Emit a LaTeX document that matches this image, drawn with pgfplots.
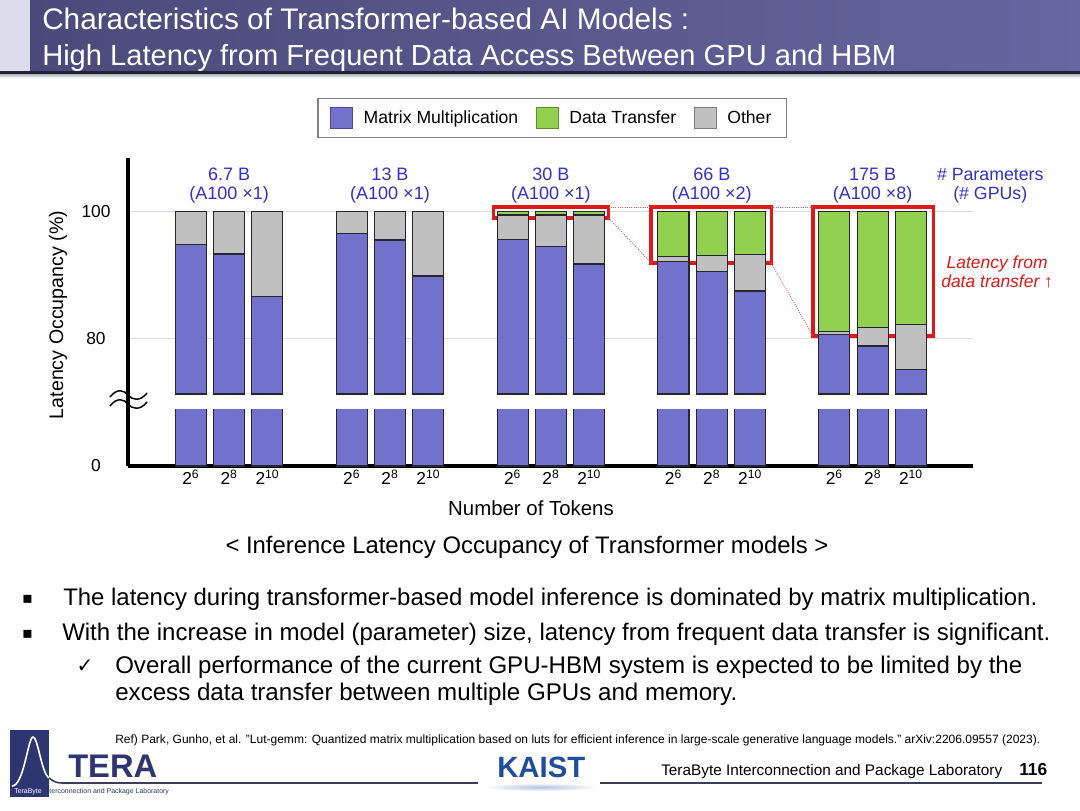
\documentclass[border=0pt]{standalone}
\usepackage{pgfplots}
\pgfplotsset{compat=1.18}
\usepackage{pgfplotstable}
\usepackage{fontspec}
\setmainfont{Liberation Sans}
\newfontfamily\dejavu{DejaVu Sans}
\usepackage{graphicx}
\definecolor{mmc}{HTML}{7272CC}
\definecolor{mmd}{HTML}{4A4A99}
\definecolor{dtc}{HTML}{92D050}
\definecolor{dtd}{HTML}{5E8F2E}
\definecolor{othc}{HTML}{C0C0C0}
\definecolor{othd}{HTML}{7F7F7F}
\definecolor{barline}{HTML}{262633}
\definecolor{lblue}{HTML}{3232C8}
\definecolor{redc}{HTML}{E01818}
\definecolor{gridgray}{HTML}{DCDCDC}
\definecolor{legendgray}{HTML}{808080}
\definecolor{stripc}{HTML}{DCDCEA}
\definecolor{titleL}{HTML}{4A4A7A}
\definecolor{titleR}{HTML}{6666A0}
\definecolor{titleline}{HTML}{22223A}
\definecolor{teranavy}{HTML}{2E3672}
\definecolor{kaistblue}{HTML}{1F4E9E}
\definecolor{footline}{HTML}{3C3C5C}
\newcommand{\fs}[1]{\fontsize{#1}{#1}\selectfont}
\newcommand{\glab}[3]{%
  \node[anchor=base, text=lblue, font=\fs{13.5}, inner sep=0] at (axis cs:#1,105.0) {#2};
  \node[anchor=base, text=lblue, font=\fs{13.5}, inner sep=0] at (axis cs:#1,101.85) {#3};}

\pgfplotstableread{
x     mm     oth    dt
0     94.85  5.15   0
1     93.32  6.68   0
2     86.57  13.43  0
4.2   96.48  3.52   0
5.2   95.53  4.47   0
6.2   89.84  10.16  0
8.4   95.64  3.84   0.52
9.4   94.47  5.01   0.52
10.4  91.74  7.74   0.52
12.6  92.20  0.70   7.10
13.6  90.52  2.58   6.90
14.6  87.47  5.73   6.80
16.8  80.60  0.45   18.95
17.8  78.78  2.90   18.32
18.8  75.00  7.20   17.80
}\datatable

\begin{document}
\begin{tikzpicture}[x=0.75pt,y=-0.75pt]
\useasboundingbox (0,0) rectangle (1080,810);
\fill[white] (0,0) rectangle (1080,810);
% title bar
\fill[stripc] (0,0) rectangle (30,71);
\shade[left color=titleL, right color=titleR] (30,0) rectangle (1080,71);
\fill[titleline] (0,71) rectangle (1080,74);
\shade[top color=black!30, bottom color=white] (0,74) rectangle (1080,78);
\node[anchor=base west, inner sep=0, text=white] at (42,29.5) {\resizebox{485.25pt}{!}{\fs{22}Characteristics of Transformer-based AI Models :}};
\node[anchor=base west, inner sep=0, text=white] at (42,65) {\resizebox{640.5pt}{!}{\fs{22}High Latency from Frequent Data Access Between GPU and HBM}};

% upper axis
\begin{axis}[
  at={(96pt,-295.5pt)}, anchor=south west,
  width=633.75pt, height=177pt, scale only axis,
  xmin=-1.64, xmax=20.42, ymin=71.2, ymax=108.48,
  ybar stacked, bar width=0.81,
  axis y line*=left, axis x line*=bottom,
  x axis line style={draw=none},
  y axis line style={line width=2.4pt, black},
  xtick=\empty, ytick={80,100}, yticklabels={80,100},
  major tick length=0,
  ymajorgrids, grid style={draw=gridgray, line width=0.9pt},
  yticklabel style={anchor=center, xshift=-24pt, font=\fs{13}},
  clip mode=individual,
  legend columns=3,
  legend style={at={(0.5018,1.1695)}, anchor=center, draw=legendgray, line width=0.8pt,
    font=\fs{13.2}, inner xsep=9pt, inner ysep=6pt,
    /tikz/every odd column/.append style={column sep=6pt},
    /tikz/every even column/.append style={column sep=11pt}},
  legend cell align=left,
]
\addlegendimage{legend image code/.code={\draw[fill=mmc, draw=mmd, line width=0.8pt] (0pt,-7.9pt) rectangle (16.5pt,7.9pt);}}
\addlegendentry{Matrix Multiplication}
\addlegendimage{legend image code/.code={\draw[fill=dtc, draw=dtd, line width=0.8pt] (0pt,-7.9pt) rectangle (16.5pt,7.9pt);}}
\addlegendentry{Data Transfer}
\addlegendimage{legend image code/.code={\draw[fill=othc, draw=othd, line width=0.8pt] (0pt,-7.9pt) rectangle (16.5pt,7.9pt);}}
\addlegendentry{Other}
\addplot[fill=mmc, draw=barline, line width=0.8pt] table[x=x, y=mm] {\datatable};
\addplot[fill=othc, draw=barline, line width=0.8pt] table[x=x, y=oth] {\datatable};
\addplot[fill=dtc, draw=barline, line width=0.8pt] table[x=x, y=dt] {\datatable};
% group labels
\glab{1}{6.7 B}{(A100 ×1)}
\glab{5.2}{13 B}{(A100 ×1)}
\glab{9.4}{30 B}{(A100 ×1)}
\glab{13.6}{66 B}{(A100 ×2)}
\glab{17.8}{175 B}{(A100 ×8)}
\node[anchor=base, text=lblue, font=\fs{13.3}, inner sep=0] at (axis cs:20.87,105.0) {\# Parameters};
\node[anchor=base, text=lblue, font=\fs{13.3}, inner sep=0] at (axis cs:20.87,101.85) {(\# GPUs)};
\node[anchor=base, text=redc, font=\fs{13.1}\itshape, inner sep=0] at (axis cs:21.05,91.1) {Latency from};
\node[anchor=base, text=redc, font=\fs{13.1}\itshape, inner sep=0] at (axis cs:21.05,87.95) {data transfer ↑};
% connectors
\draw[redc!70, line width=0.7pt, densely dotted] (axis cs:10.909,100.74) -- (axis cs:12.016,100.74);
\draw[redc!70, line width=0.7pt, densely dotted] (axis cs:10.909,99.0) -- (axis cs:12.016,91.9);
\draw[redc!70, line width=0.7pt, densely dotted] (axis cs:15.149,100.74) -- (axis cs:16.245,100.74);
\draw[redc!70, line width=0.7pt, densely dotted] (axis cs:15.149,91.9) -- (axis cs:16.245,80.36);
% red boxes
\draw[redc, line width=2.4pt] (axis cs:7.906,100.74) rectangle (axis cs:10.909,99.0);
\draw[redc, line width=2.4pt] (axis cs:12.016,100.74) rectangle (axis cs:15.149,91.9);
\draw[redc, line width=2.4pt] (axis cs:16.245,100.74) rectangle (axis cs:19.38,80.36);
\end{axis}

% lower axis
\begin{axis}[
  at={(96pt,-349.5pt)}, anchor=south west,
  width=633.75pt, height=42.75pt, scale only axis,
  xmin=-1.64, xmax=20.42, ymin=0, ymax=9.0,
  ybar, bar width=0.81,
  axis y line*=left, axis x line*=bottom,
  x axis line style={line width=2.4pt, black},
  y axis line style={line width=2.4pt, black},
  xtick={0,1,2,4.2,5.2,6.2,8.4,9.4,10.4,12.6,13.6,14.6,16.8,17.8,18.8},
  xticklabels={{2\textsuperscript{6}},{2\textsuperscript{8}},{2\textsuperscript{10}},{2\textsuperscript{6}},{2\textsuperscript{8}},{2\textsuperscript{10}},{2\textsuperscript{6}},{2\textsuperscript{8}},{2\textsuperscript{10}},{2\textsuperscript{6}},{2\textsuperscript{8}},{2\textsuperscript{10}},{2\textsuperscript{6}},{2\textsuperscript{8}},{2\textsuperscript{10}}},
  ytick={0}, yticklabels={0},
  major tick length=0,
  xticklabel style={anchor=base, yshift=-14pt, font=\fs{13}},
  yticklabel style={anchor=center, xshift=-24pt, font=\fs{13}},
]
\addplot[fill=mmc, draw=barline, line width=0.8pt] table[x=x, y=mm] {\datatable};
\end{axis}

% axis break
\draw[line width=2.4pt] (128,393) -- (128,410);
\draw[line width=1.1pt] (110,397) .. controls (117,388) and (124,390) .. (128,395) .. controls (132,400) and (140,402) .. (147,393);
\draw[line width=1.1pt] (110,406) .. controls (117,397) and (124,399) .. (128,404) .. controls (132,409) and (140,411) .. (147,402);

% axis titles
\node[rotate=90, font=\fs{14.7}, inner sep=0] at (58,315) {Latency Occupancy (\%)};
\node[anchor=base, font=\fs{15.3}, inner sep=0] at (531,515) {Number of Tokens};
\node[anchor=base, inner sep=0] at (527,553) {\resizebox{452.25pt}{!}{\fs{17.8}< Inference Latency Occupancy of Transformer models >}};

% bullets
\node[anchor=base, inner sep=0] at (27.5,603) {\dejavu\fs{12}▪};
\node[anchor=base, inner sep=0] at (27.5,638) {\dejavu\fs{12}▪};
\node[anchor=base west, inner sep=0] at (63,605) {\resizebox{730.5pt}{!}{\fs{17.5}The latency during transformer-based model inference is dominated by matrix multiplication.}};
\node[anchor=base west, inner sep=0] at (62,640) {\resizebox{741pt}{!}{\fs{17.5}With the increase in model (parameter) size, latency from frequent data transfer is significant.}};
\node[anchor=base, inner sep=0] at (85,672) {\dejavu\fs{15}✓};
\node[anchor=base west, inner sep=0] at (115,673) {\resizebox{680.25pt}{!}{\fs{17.5}Overall performance of the current GPU-HBM system is expected to be limited by the}};
\node[anchor=base west, inner sep=0] at (115,700) {\resizebox{466.5pt}{!}{\fs{17.5}excess data transfer between multiple GPUs and memory.}};

% reference
\node[anchor=base west, inner sep=0] at (115,743.5) {\resizebox{693.75pt}{!}{\fs{9}Ref) Park, Gunho, et al. "Lut-gemm: Quantized matrix multiplication based on luts for efficient inference in large-scale generative language models." arXiv:2206.09557 (2023).}};

% footer
\fill[teranavy] (10,730) rectangle (49,797);
\draw[white, line width=1.2pt] (12,786) .. controls (24,786) and (28,737) .. (33,737) .. controls (38,737) and (41,772) .. (49,778);
\draw[footline, line width=1.2pt] (49,778) .. controls (53,781) and (56,783) .. (62,783) -- (478,783);
\draw[footline, line width=1.2pt] (600,783) -- (1042,783);
\node[anchor=base west, inner sep=0] at (14,793.5) {\resizebox{116pt}{!}{\fs{6}\textcolor{white}{TeraByte} \textcolor{teranavy}{Interconnection and Package Laboratory}}};
\node[anchor=base west, inner sep=0, text=teranavy] at (68,777) {\resizebox{66.75pt}{!}{\fs{24}\bfseries TERA}};
\shade[inner color=kaistblue!35, outer color=white] (541,787) ellipse (58 and 4);
\node[anchor=base west, inner sep=0, text=kaistblue] at (497,777) {\resizebox{66pt}{!}{\fs{18}\bfseries KAIST}};
\node[anchor=base west, inner sep=0] at (661,775) {\resizebox{255.75pt}{!}{\fs{11}TeraByte Interconnection and Package Laboratory}};
\node[anchor=base west, inner sep=0] at (1019,775) {\resizebox{21pt}{!}{\fs{11}\bfseries 116}};
\end{tikzpicture}
\end{document}
